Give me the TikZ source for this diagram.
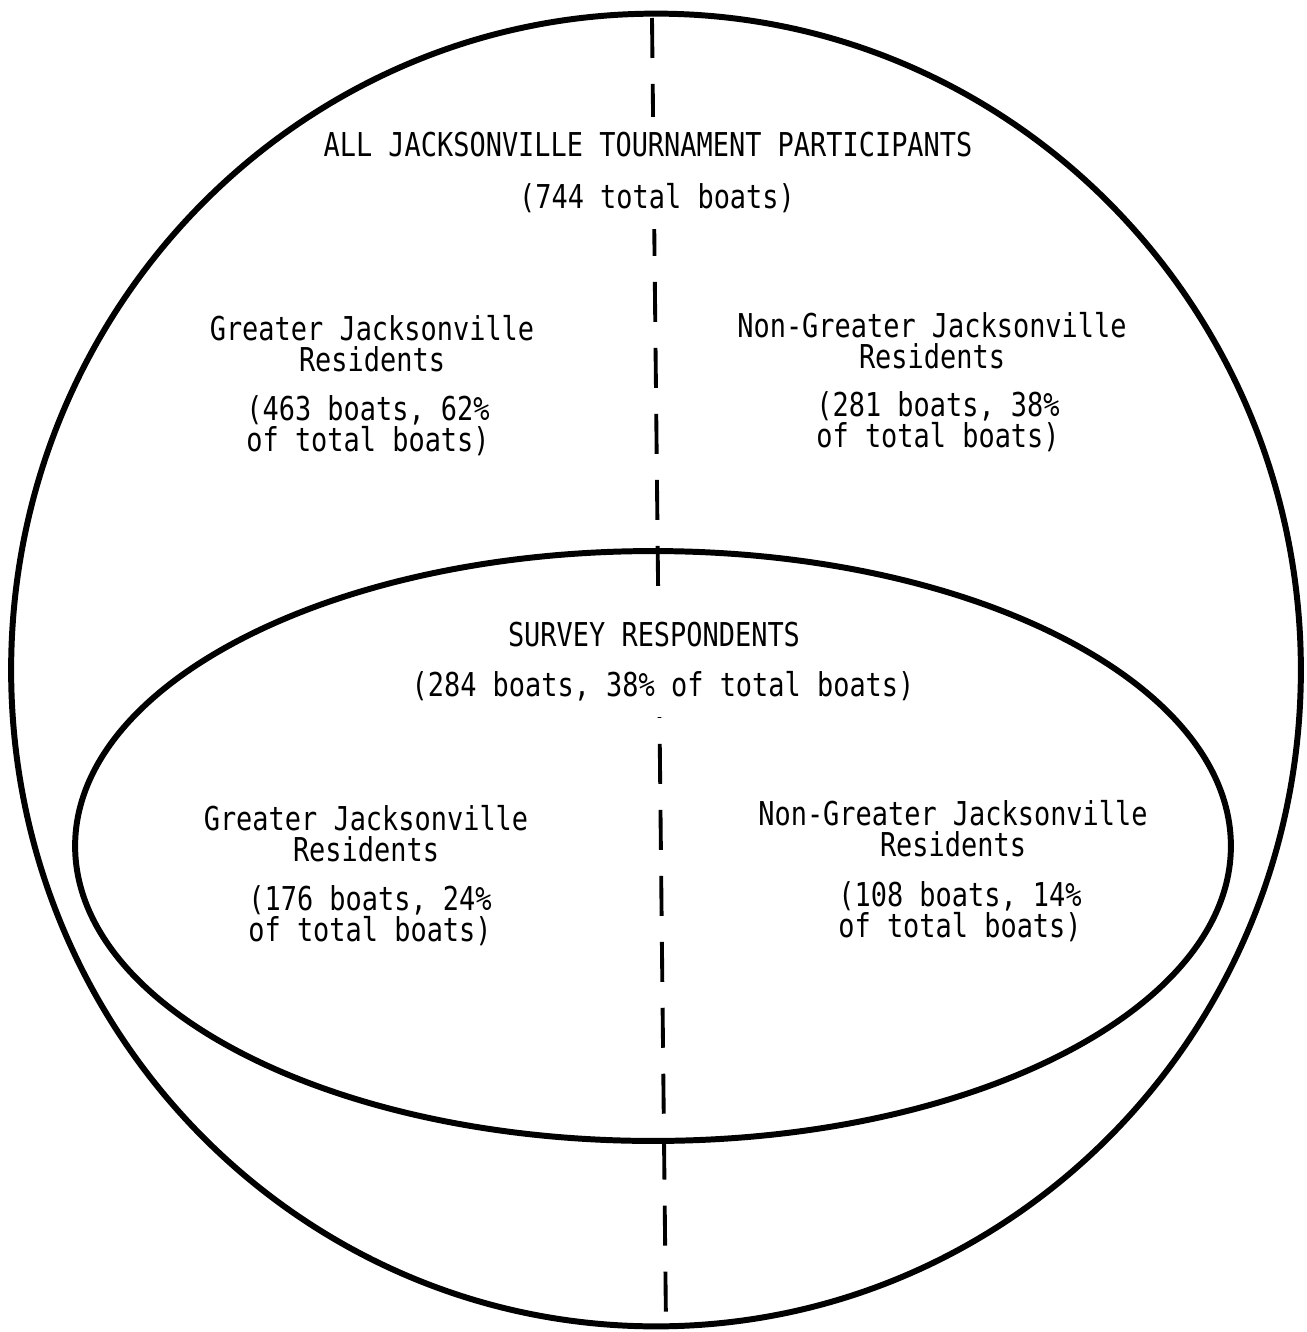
\documentclass[tikz,border=0pt]{standalone}
\usepackage{fontspec}
\setmonofont[FakeStretch=0.82]{DejaVu Sans Mono}
\usepackage{tikz}
\newcommand{\boatfont}{\ttfamily\fontsize{18.7}{17.6}\selectfont}

\begin{document}
\begin{tikzpicture}[
                    x=0.02cm, y=-0.02cm,
                    every node/.style={
                        font=\boatfont,
                        align=center,
                        inner sep=3pt
                    },
                    heading/.style={fill=white, inner ysep=9pt, inner xsep=3pt},
                    rim/.style={line width=3.4pt},
                    divider/.style={line width=2.2pt, dash pattern=on 0.8cm off 0.52cm}
                ]
                    \useasboundingbox (0,0) rectangle (1306,1332);

                    % Sets
                    \draw[rim] (656,670) ellipse [x radius=12.9cm, y radius=13.13cm];
                    \draw[rim] (653,846) ellipse [x radius=11.56cm, y radius=5.9cm];

                    % Divider
                    \coordinate (divtop) at (652,18);
                    \coordinate (divbot) at (666,1326);
                    \draw[divider] (divtop) -- (divbot);

                    % All participants
                    \node[heading] (all) at (648,145) {ALL JACKSONVILLE TOURNAMENT PARTICIPANTS};
                    \node[heading] (allcnt) at (657,198) {(744 total boats)};
                    \node (gj) at (372,344) {Greater Jacksonville\\Residents};
                    \node (gjcnt) at (368,426) {(463 boats, 62\%\\of total boats)};
                    \node (ngj) at (932,341) {Non-Greater Jacksonville\\Residents};
                    \node (ngjcnt) at (938,422) {(281 boats, 38\%\\of total boats)};

                    % Survey respondents
                    \node[heading] (surv) at (654,635) {SURVEY RESPONDENTS};
                    \node[heading] (survcnt) at (663,686) {(284 boats, 38\% of total boats)};
                    \node (sgj) at (366,834) {Greater Jacksonville\\Residents};
                    \node (sgjcnt) at (370,916) {(176 boats, 24\%\\of total boats)};
                    \node (sngj) at (953,829) {Non-Greater Jacksonville\\Residents};
                    \node (sngjcnt) at (960,912) {(108 boats, 14\%\\of total boats)};
                \end{tikzpicture}
\end{document}
